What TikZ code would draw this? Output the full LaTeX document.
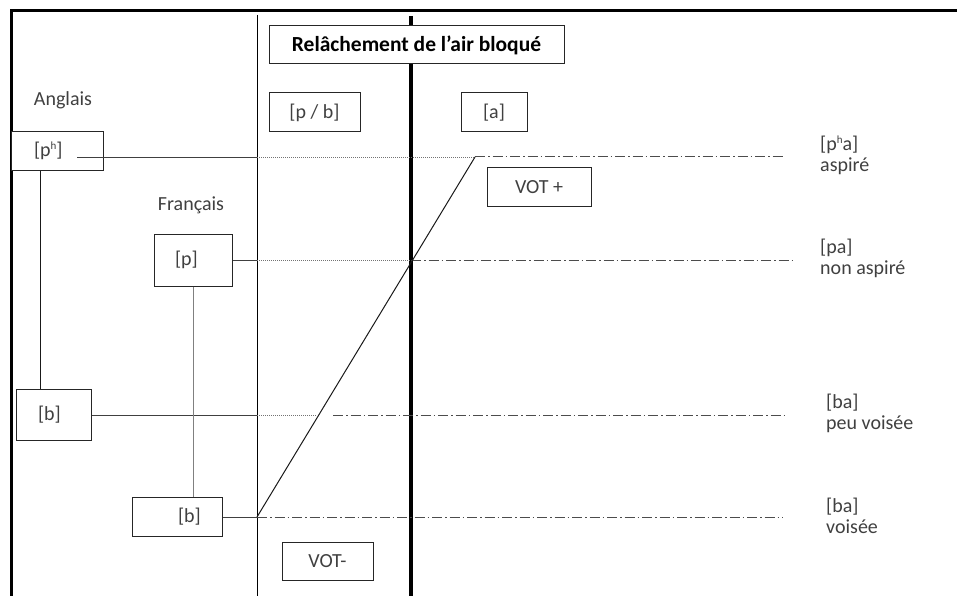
\documentclass[tikz,border=0pt]{standalone}
\usepackage{fontspec}
\setmainfont{Carlito}
\newcommand{\suph}{\raisebox{0.75ex}{\fontsize{11}{11}\selectfont h}}
\begin{document}
\begin{tikzpicture}[x=1pt,y=-1pt,
  font=\fontsize{20}{21}\selectfont,
  box/.style={draw=black!85, line width=1pt, fill=white, text=black!75, inner sep=0pt},
  conn/.style={draw=black!75, line width=0.9pt},
  dotl/.style={draw=black!55, line width=0.9pt, dash pattern=on 1pt off 1pt},
  dashdot/.style={draw=black!70, line width=1pt, dash pattern=on 10pt off 3pt on 1.5pt off 3pt},
  lab/.style={anchor=west, align=left, text=black!75, inner sep=0pt},
  plain/.style={text=black!75, inner sep=0pt}]
\useasboundingbox (0,0) rectangle (957,596);
% frame and axes
\draw[line width=3pt] (957,11) -- (11,11) -- (11,596);
\draw[line width=1pt] (257,15) -- (257,596);
\draw[line width=4.5pt] (411,16) -- (411,596);
% boxes
\node[box, minimum width=295pt, minimum height=38pt, text=black, font=\fontsize{21.5}{22}\selectfont\bfseries] (title) at (416.5,45) {Relâchement de l'air bloqué};
\node[box, minimum width=91pt, minimum height=39pt] (pb) at (314.5,112.5) {[p / b]};
\node[box, minimum width=66pt, minimum height=39pt] (a) at (494,112.5) {[a]};
\node[box, minimum height=38pt] (ph) at (57,151) {\makebox[92pt][l]{\hspace{23pt}[p\suph]}};
\node[box, minimum height=52pt] (p) at (193,260) {\makebox[78pt][l]{\hspace{21pt}[p]}};
\node[box, minimum height=51pt] (bA) at (53.5,415) {\makebox[75pt][l]{\hspace{22pt}[b]}};
\node[box, minimum height=39pt] (bF) at (177,517) {\makebox[90pt][l]{\hspace{46pt}[b]}};
\node[box, minimum width=104pt, minimum height=38pt] (votp) at (539,187) {VOT +};
\node[box, minimum width=91pt, minimum height=38pt] (votm) at (327.5,561) {VOT-};
% labels
\node[plain] (ang) at (63,100) {Anglais};
\node[plain] (fr) at (191,205) {Français};
\node[lab] (lpha) at (820,155.5) {[p\suph a]\\aspiré};
\node[lab] (lpa) at (820,258) {[pa]\\non aspiré};
\node[lab] (lba1) at (826,413) {[ba]\\peu voisée};
\node[lab] (lba2) at (826,515.5) {[ba]\\voisée};
% coordinates
\coordinate (phs) at (77,157);
\coordinate (ph1) at (257,157);
\coordinate (ph2) at (475,157);
\coordinate (ph3) at (783,157);
\coordinate (p1) at (257,260);
\coordinate (p2) at (411,260);
\coordinate (p3) at (795,260);
\coordinate (b1) at (257,415);
\coordinate (b2) at (316,415);
\coordinate (b3) at (333,415);
\coordinate (b4) at (785,415);
\coordinate (f1) at (257,517);
\coordinate (f2) at (783,517);
\coordinate (vA) at (40,0);
% connectors
\draw[conn] (phs) -- (ph1);
\draw[dotl] (ph1) -- (ph2);
\draw[dashdot] (ph2) -- (ph3);
\draw[conn] (p.east) -- (p1);
\draw[dotl] (p1) -- (p2);
\draw[dashdot] (p2) -- (p3);
\draw[conn] (bA.east) -- (b1);
\draw[dotl] (b1) -- (b2);
\draw[dashdot] (b3) -- (b4);
\draw[conn] (bF.east) -- (f1);
\draw[dashdot] (f1) -- (f2);
\draw[conn, line width=1pt, draw=black!90] (f1) -- (ph2);
\draw[conn, draw=black!90] (vA |- ph.south) -- (vA |- bA.north);
\draw[conn, draw=black!50] (p.south) -- (p.south |- bF.north);
\end{tikzpicture}
\end{document}
